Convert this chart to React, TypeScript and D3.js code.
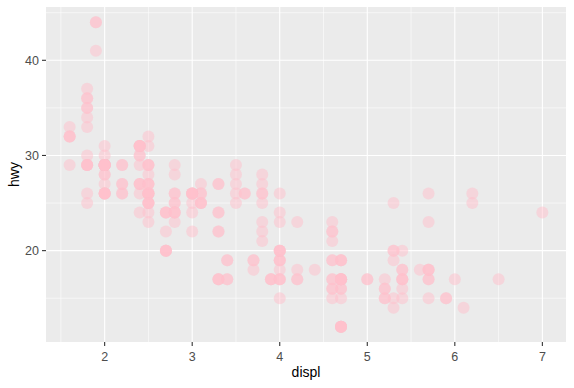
import React from 'react'
import * as d3 from 'd3'

// mpg: engine displacement (litres) and highway mileage
const displ = [
  1.8, 1.8, 2.0, 2.0, 2.8, 2.8, 3.1,
  1.8, 1.8, 2.0, 2.0, 2.8, 2.8, 3.1, 3.1,
  2.8, 3.1, 4.2,
  5.3, 5.3, 5.3, 5.7, 6.0,
  5.7, 5.7, 6.2, 6.2, 7.0,
  5.3, 5.3, 5.7, 6.5,
  2.4, 2.4, 3.1, 3.5, 3.6,
  2.4, 3.0, 3.3, 3.3, 3.3, 3.3, 3.3, 3.8, 3.8, 3.8, 4.0,
  3.7, 3.7, 3.9, 3.9, 4.7, 4.7, 4.7, 5.2, 5.2,
  3.9, 4.7, 4.7, 4.7, 5.2, 5.7, 5.9,
  4.7, 4.7, 4.7, 4.7, 4.7, 4.7, 5.2, 5.2, 5.7, 5.9,
  4.6, 5.4, 5.4,
  4.0, 4.0, 4.0, 4.0, 4.6, 5.0,
  4.2, 4.2, 4.6, 4.6, 4.6, 5.4, 5.4,
  3.8, 3.8, 4.0, 4.0, 4.6, 4.6, 4.6, 4.6, 5.4,
  1.6, 1.6, 1.6, 1.6, 1.6, 1.8, 1.8, 1.8, 2.0,
  2.4, 2.4, 2.4, 2.4, 2.5, 2.5, 3.3,
  2.0, 2.0, 2.0, 2.0, 2.7, 2.7, 2.7,
  3.0, 3.7, 4.0, 4.7, 4.7, 4.7, 5.7, 6.1,
  4.0, 4.2, 4.4, 4.6,
  5.4, 5.4, 5.4,
  4.0, 4.0, 4.6, 5.0,
  2.4, 2.4, 2.5, 2.5, 3.5, 3.5,
  3.0, 3.0, 3.5,
  3.3, 3.3, 4.0, 5.6,
  3.1, 3.8, 3.8, 3.8, 5.3,
  2.5, 2.5, 2.5, 2.5, 2.5, 2.5,
  2.2, 2.2, 2.5, 2.5, 2.5, 2.5, 2.5, 2.5,
  2.7, 2.7, 3.4, 3.4, 4.0, 4.7,
  2.2, 2.2, 2.4, 2.4, 3.0, 3.0, 3.5,
  2.2, 2.2, 2.4, 2.4, 3.0, 3.0, 3.3,
  1.8, 1.8, 1.8, 1.8, 1.8,
  4.7, 5.7,
  2.7, 2.7, 2.7, 3.4, 3.4, 4.0, 4.0,
  2.0, 2.0, 2.0, 2.0, 2.8,
  1.9, 2.0, 2.0, 2.0, 2.0, 2.5, 2.5, 2.8, 2.8,
  1.9, 1.9, 2.0, 2.0, 2.5, 2.5,
  1.8, 1.8, 2.0, 2.0, 2.8, 2.8, 3.6,
]
const hwy = [
  29, 29, 31, 30, 26, 26, 27,
  26, 25, 28, 27, 25, 25, 25, 25,
  24, 25, 23,
  20, 15, 20, 17, 17,
  26, 23, 26, 25, 24,
  19, 14, 15, 17,
  27, 30, 26, 29, 26,
  24, 24, 22, 22, 24, 24, 17, 22, 21, 23, 23,
  19, 18, 17, 17, 19, 19, 12, 17, 15,
  17, 17, 12, 17, 16, 18, 15,
  16, 12, 17, 17, 16, 12, 15, 16, 17, 15,
  17, 17, 18,
  17, 19, 17, 19, 19, 17,
  17, 17, 16, 16, 17, 15, 17,
  26, 25, 26, 24, 21, 22, 23, 22, 20,
  33, 32, 32, 29, 32, 34, 36, 36, 29,
  26, 27, 30, 31, 26, 26, 27,
  26, 29, 28, 26, 24, 24, 24,
  22, 19, 20, 17, 12, 19, 18, 14,
  15, 18, 18, 15,
  17, 16, 18,
  17, 19, 19, 17,
  29, 27, 31, 32, 27, 26,
  26, 25, 25,
  17, 17, 20, 18,
  26, 26, 27, 28, 25,
  25, 24, 27, 25, 26, 23,
  26, 26, 26, 26, 25, 27, 25, 27,
  20, 20, 19, 17, 20, 17,
  29, 27, 31, 31, 26, 26, 28,
  27, 29, 31, 31, 26, 26, 27,
  30, 33, 35, 37, 35,
  15, 18,
  20, 20, 22, 17, 19, 18, 20,
  29, 26, 29, 29, 24,
  44, 29, 26, 29, 29, 29, 29, 23, 24,
  44, 41, 29, 26, 28, 29,
  29, 29, 29, 29, 28, 29, 26,
]
const xTicks = [2, 3, 4, 5, 6, 7]
const yTicks = [20, 30, 40]
const xMinor = [1.5, 2.5, 3.5, 4.5, 5.5, 6.5]
const yMinor = [15, 25, 35, 45]

const W = 574
const H = 388
const left = 46
const right = 566
const top = 7
const bottom = 342

export default function App() {
  const points = displ.map((d, i) => ({ x: d, y: hwy[i] }))
  const xExt = d3.extent(displ) as [number, number]
  const yExt = d3.extent(hwy) as [number, number]
  const xPad = (xExt[1] - xExt[0]) * 0.05
  const yPad = (yExt[1] - yExt[0]) * 0.05
  const x = d3.scaleLinear().domain([xExt[0] - xPad, xExt[1] + xPad]).range([left, right])
  const y = d3.scaleLinear().domain([yExt[0] - yPad, yExt[1] + yPad]).range([bottom, top])
  const font = 'Arial, "Liberation Sans", sans-serif'

  return (
    <svg width={W} height={H} style={{ position: 'absolute', left: 0, top: 0, background: '#fff' }}>
      <rect x={left} y={top} width={right - left} height={bottom - top} fill="#EBEBEB" />
      {xMinor.map(t => (
        <line key={'xm' + t} x1={x(t)} x2={x(t)} y1={top} y2={bottom} stroke="#fff" strokeWidth={0.55} />
      ))}
      {yMinor.map(t => (
        <line key={'ym' + t} x1={left} x2={right} y1={y(t)} y2={y(t)} stroke="#fff" strokeWidth={0.55} />
      ))}
      {xTicks.map(t => (
        <line key={'xg' + t} x1={x(t)} x2={x(t)} y1={top} y2={bottom} stroke="#fff" strokeWidth={1.1} />
      ))}
      {yTicks.map(t => (
        <line key={'yg' + t} x1={left} x2={right} y1={y(t)} y2={y(t)} stroke="#fff" strokeWidth={1.1} />
      ))}
      {points.map((p, i) => (
        <circle key={i} cx={x(p.x)} cy={y(p.y)} r={6} fill="#FFC0CB" fillOpacity={0.5} />
      ))}
      {xTicks.map(t => (
        <g key={'xt' + t}>
          <line x1={x(t)} x2={x(t)} y1={bottom} y2={bottom + 4} stroke="#333" strokeWidth={1.1} />
          <text x={x(t)} y={bottom + 19} textAnchor="middle" fontSize={12.5} fill="#4D4D4D" fontFamily={font}>{t}</text>
        </g>
      ))}
      {yTicks.map(t => (
        <g key={'yt' + t}>
          <line x1={left - 4} x2={left} y1={y(t)} y2={y(t)} stroke="#333" strokeWidth={1.1} />
          <text x={left - 7} y={y(t) + 4.5} textAnchor="end" fontSize={12.5} fill="#4D4D4D" fontFamily={font}>{t}</text>
        </g>
      ))}
      <text x={(left + right) / 2} y={377} textAnchor="middle" fontSize={14} fill="#000" fontFamily={font}>displ</text>
      <text transform={`translate(19,${(top + bottom) / 2}) rotate(-90)`} textAnchor="middle" fontSize={14} fill="#000" fontFamily={font}>hwy</text>
    </svg>
  )
}
